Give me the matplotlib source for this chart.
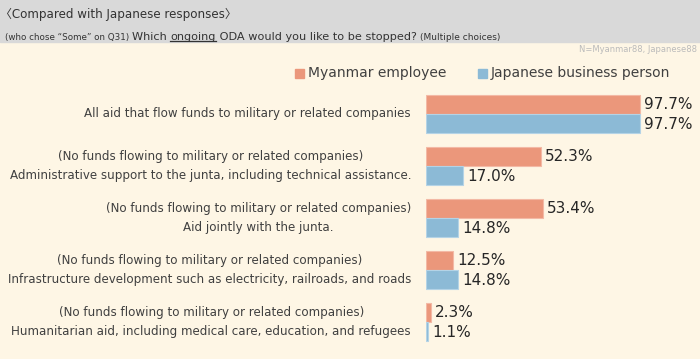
import matplotlib
matplotlib.use("Agg")
import matplotlib.pyplot as plt
from matplotlib.patches import Rectangle
from matplotlib.lines import Line2D

# ---- data ----
categories = [
    "All aid that flow funds to military or related companies",
    "(No funds flowing to military or related companies)\nAdministrative support to the junta, including technical assistance.",
    "(No funds flowing to military or related companies)\nAid jointly with the junta.",
    "(No funds flowing to military or related companies)\nInfrastructure development such as electricity, railroads, and roads",
    "(No funds flowing to military or related companies)\nHumanitarian aid, including medical care, education, and refugees",
]
series_names = ["Myanmar employee", "Japanese business person"]
myanmar = [97.7, 52.3, 53.4, 12.5, 2.3]
japanese = [97.7, 17.0, 14.8, 14.8, 1.1]

ORANGE, BLUE = "#EB977B", "#8CBAD6"
BG, HEAD = "#FEF6E5", "#D9D9D9"
TXT = "#404040"
FONT = ["DejaVu Sans", "Noto Sans CJK JP"]
plt.rcParams["font.family"] = FONT

W, H = 700, 359
fig = plt.figure(figsize=(W / 100, H / 100), dpi=100, facecolor=BG)


def px(x0, y0, w, h):
    """pixel box (top-left origin) -> figure fraction rect"""
    return [x0 / W, 1 - (y0 + h) / H, w / W, h / H]


# full-figure axes in pixel units for header text
hax = fig.add_axes([0, 0, 1, 1]); hax.axis("off")
hax.set_xlim(0, W); hax.set_ylim(H, 0)

# header band
hax.add_patch(Rectangle((0, 0), W, 42, color=HEAD, zorder=0))

hax.text(0, 14, "〈Compared with Japanese responses〉", fontsize=8.6,
         color="#333333", va="center", ha="left", zorder=2)

# second title line built from pieces
pieces = [("(who chose “Some” on Q31) ", 6.3), ("Which ", 8.1), ("ongoing", 8.1),
          (" ODA would you like to be stopped? ", 8.1), ("(Multiple choices)", 6.5)]
prev = None
arts = []
for s, fs in pieces:
    if prev is None:
        t = hax.annotate(s, xy=(5, 40), xycoords="data", fontsize=fs, color="#333333",
                         va="baseline", ha="left", zorder=2)
    else:
        t = hax.annotate(s, xy=(1, 0), xycoords=prev, fontsize=fs, color="#333333",
                         va="bottom", ha="left", zorder=2)
    arts.append(t)
    prev = t

hax.text(697, 50, "N=Myanmar88, Japanese88", fontsize=6, color="#BBBBBB",
         ha="right", va="center")

# legend
for name, col, x0 in zip(series_names, [ORANGE, BLUE], [295, 478]):
    hax.add_patch(Rectangle((x0, 69), 9, 9, color=col))
    hax.text(x0 + 13, 73, name, fontsize=10, color=TXT, va="center")

# bars
ax = fig.add_axes(px(426, 88, 219, 260))
ax.set_facecolor("none")
n = len(categories)
ys = list(range(n))
bh = 19 / 52
ax.barh([y - bh / 2 for y in ys], myanmar, height=bh, color=ORANGE, edgecolor="#F3B9A5", lw=0.8)
ax.barh([y + bh / 2 for y in ys], japanese, height=bh, color=BLUE, edgecolor="#B4D3E6", lw=0.8)
ax.set_xlim(0, 100)
ax.set_ylim(n - 0.5, -0.5)
ax.axis("off")

for y, a, b in zip(ys, myanmar, japanese):
    ax.text(a + 1.8, y - bh / 2, f"{a:.1f}%", fontsize=11, color="#262626", va="center")
    ax.text(b + 1.8, y + bh / 2 + 0.02, f"{b:.1f}%", fontsize=11, color="#262626", va="center")

for y, lab in zip(ys, categories):
    ax.text(-6.8, y, lab, fontsize=8.6, color=TXT, ha="right", va="center",
            multialignment="center", linespacing=1.6)

# underline "ongoing"
fig.canvas.draw()
r = fig.canvas.get_renderer()
bb = arts[2].get_window_extent(r)
yl = H - bb.y0 - 1
hax.add_line(Line2D([bb.x0, bb.x1], [yl, yl], color="#333333", lw=0.9, zorder=3))

fig.savefig("out.png", dpi=100, facecolor=BG)
